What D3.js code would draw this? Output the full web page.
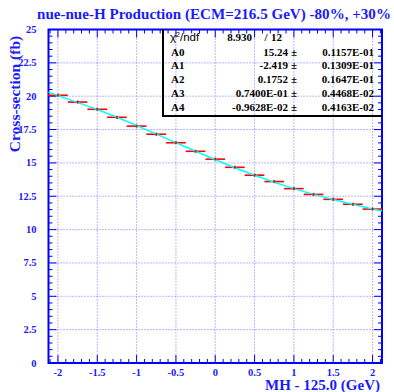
<!DOCTYPE html>
<html>
<head>
<meta charset="utf-8">
<script src="https://cdn.jsdelivr.net/npm/d3@7"></script>
<style>
  body { margin: 0; background: #fff; }
  svg { display: block; }
  text { font-family: "Liberation Serif", "DejaVu Serif", serif; font-weight: bold; fill: #1a1aff; }
</style>
</head>
<body>
<div id="chart"></div>
<script>
// MH - 125.0 (GeV) bins and measured cross-sections (fb)
const mhShift = [-2, -1.75, -1.5, -1.25, -1, -0.75, -0.5, -0.25, 0, 0.25, 0.5, 0.75, 1, 1.25, 1.5, 1.75, 2];
const xsec    = [20.07, 19.56, 19.02, 18.42, 17.76, 17.15, 16.51, 15.87, 15.28, 14.67, 14.08, 13.6, 13.07, 12.64, 12.27, 11.9, 11.54];
const xsecErr = [0.06, 0.06, 0.06, 0.06, 0.06, 0.06, 0.06, 0.06, 0.06, 0.06, 0.06, 0.06, 0.06, 0.06, 0.06, 0.06, 0.06];
const binHalf = 0.125;

// fitted polynomial
const fitX = [-2.12, -2, -1.5, -1, -0.5, 0, 0.5, 1, 1.5, 2, 2.12];
const fitY = [20.32, 20.05, 19.0, 17.8, 16.52, 15.24, 14.07, 13.07, 12.26, 11.55, 11.43];

// stats box
const statNames = ["A0", "A1", "A2", "A3", "A4"];
const statVals  = ["15.24", "-2.419", "0.1752", "0.7400E-01", "-0.9628E-02"];
const statErrs  = ["0.1157E-01", "0.1309E-01", "0.1647E-01", "0.4468E-02", "0.4163E-02"];
const chi2 = "8.930", ndf = "12";

const xTicks = [-2, -1.5, -1, -0.5, 0, 0.5, 1, 1.5, 2];
const yTicks = [0, 2.5, 5, 7.5, 10, 12.5, 15, 17.5, 20, 22.5, 25];

const W = 394, H = 392;
const padL = 48.5, padR = 382, padT = 29.5, padB = 363;
const blue = "#0000ff";

const svg = d3.select("#chart").append("svg").attr("width", W).attr("height", H);

const x = d3.scaleLinear().domain([-2.12, 2.12]).range([padL, padR]);
const y = d3.scaleLinear().domain([0, 25]).range([padB, padT]);

// grid
const grid = svg.append("g").attr("stroke", "#5050ff").attr("stroke-width", 1).attr("stroke-dasharray", "1,2").attr("opacity", 0.8);
grid.selectAll("line.gx").data(xTicks).enter().append("line")
  .attr("x1", d => x(d)).attr("x2", d => x(d)).attr("y1", padT).attr("y2", padB);
grid.selectAll("line.gy").data(yTicks.slice(1, -1)).enter().append("line")
  .attr("y1", d => y(d)).attr("y2", d => y(d)).attr("x1", padL).attr("x2", padR);

// ticks (inside, all four sides)
const xMinor = d3.range(-21, 22).map(d => d / 10);
const yMinor = d3.range(0, 51).map(d => d / 2);
const tk = svg.append("g").attr("stroke", blue).attr("stroke-width", 1);
xMinor.forEach(v => {
  const major = Math.abs(v * 2 - Math.round(v * 2)) < 1e-6;
  const len = major ? 8 : 4;
  tk.append("line").attr("x1", x(v)).attr("x2", x(v)).attr("y1", padB).attr("y2", padB - len);
  tk.append("line").attr("x1", x(v)).attr("x2", x(v)).attr("y1", padT).attr("y2", padT + len);
});
yMinor.forEach(v => {
  const major = Math.abs(v / 2.5 - Math.round(v / 2.5)) < 1e-6;
  const len = major ? 8 : 4;
  tk.append("line").attr("y1", y(v)).attr("y2", y(v)).attr("x1", padL).attr("x2", padL + len);
  tk.append("line").attr("y1", y(v)).attr("y2", y(v)).attr("x1", padR).attr("x2", padR - len);
});

// frame
svg.append("rect").attr("x", padL).attr("y", padT).attr("width", padR - padL).attr("height", padB - padT)
  .attr("fill", "none").attr("stroke", blue).attr("stroke-width", 2);

// tick labels
svg.append("g").selectAll("text").data(xTicks).enter().append("text")
  .attr("x", d => x(d)).attr("y", 376).attr("text-anchor", "middle").attr("font-size", 10.5)
  .text(d => d);
svg.append("g").selectAll("text").data(yTicks).enter().append("text")
  .attr("x", 36.5).attr("y", d => y(d) + 3.5).attr("text-anchor", "end").attr("font-size", 10.5)
  .text(d => d);

// data: horizontal bin bars + small vertical errors
const pts = mhShift.map((m, i) => ({ m: m, v: xsec[i], e: xsecErr[i] }));
const eb = svg.append("g").attr("stroke", "#ff0000").attr("stroke-width", 1.6);
eb.selectAll("line.h").data(pts).enter().append("line")
  .attr("x1", d => x(d.m - binHalf)).attr("x2", d => x(d.m + binHalf))
  .attr("y1", d => y(d.v)).attr("y2", d => y(d.v));
eb.selectAll("line.v").data(pts).enter().append("line")
  .attr("x1", d => x(d.m)).attr("x2", d => x(d.m))
  .attr("y1", d => y(d.v - d.e) + 0.8).attr("y2", d => y(d.v + d.e) - 0.8);

// fit curve
const line = d3.line().x(d => x(d[0])).y(d => y(d[1])).curve(d3.curveNatural);
svg.append("path").datum(fitX.map((v, i) => [v, fitY[i]]))
  .attr("d", line).attr("fill", "none").attr("stroke", "#00ffff").attr("stroke-width", 1.5);

// centre markers
svg.append("g").selectAll("rect").data(pts).enter().append("rect")
  .attr("x", d => x(d.m) - 1).attr("y", d => y(d.v) - 1).attr("width", 2).attr("height", 2)
  .attr("fill", "#a03030");

// stats box
const bx0 = 163, bx1 = padR, by0 = padT, by1 = 116;
svg.append("path").attr("d", `M${bx0},${by0} V${by1} H${bx1}`)
  .attr("fill", "none").attr("stroke", "#000").attr("stroke-width", 2);
const st = svg.append("g");
st.append("text").attr("x", 170).attr("y", 40.5).attr("font-size", 11.5)
  .style("font-family", "'Liberation Sans', 'DejaVu Sans', sans-serif").style("font-weight", "normal").style("fill", "#000")
  .html("χ<tspan dy='-4' font-size='7'>2</tspan><tspan dy='4'>/ndf</tspan>");
st.append("text").attr("x", 252).attr("y", 40.5).attr("text-anchor", "end").attr("font-size", 11).style("fill", "#000").text(chi2);
st.append("text").attr("x", 266).attr("y", 40.5).attr("text-anchor", "middle").attr("font-size", 11).style("fill", "#000").text("/");
st.append("text").attr("x", 282).attr("y", 40.5).attr("text-anchor", "end").attr("font-size", 11).style("fill", "#000").text(ndf);
statNames.forEach((n, i) => {
  const yy = 55.5 + i * 13.9;
  st.append("text").attr("x", 171).attr("y", yy).attr("font-size", 11).style("fill", "#000").text(n);
  st.append("text").attr("x", 288).attr("y", yy).attr("text-anchor", "end").attr("font-size", 11).style("fill", "#000").text(statVals[i]);
  st.append("text").attr("x", 294).attr("y", yy).attr("text-anchor", "middle").attr("font-size", 11).style("fill", "#000").text("±");
  st.append("text").attr("x", 374).attr("y", yy).attr("text-anchor", "end").attr("font-size", 11).style("fill", "#000").text(statErrs[i]);
});

// titles
svg.append("text").attr("x", 37).attr("y", 19).attr("font-size", 15)
  .attr("textLength", 354).attr("lengthAdjust", "spacingAndGlyphs")
  .text("nue-nue-H Production (ECM=216.5 GeV) -80%, +30%");
svg.append("text").attr("transform", "translate(20,94) rotate(-90)").attr("text-anchor", "middle").attr("font-size", 15.5)
  .text("Cross-section (fb)");
svg.append("text").attr("x", 380).attr("y", 390).attr("text-anchor", "end").attr("font-size", 15)
  .text("MH - 125.0 (GeV)");
</script>
</body>
</html>
